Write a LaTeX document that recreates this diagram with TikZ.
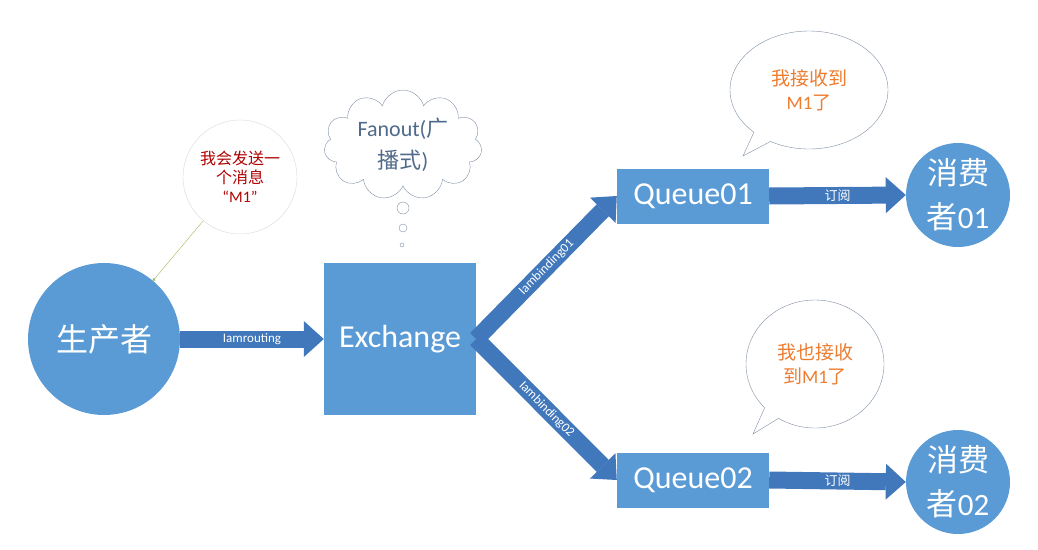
\documentclass[tikz,border=0pt]{standalone}
\usepackage{fontspec}
\setmainfont{Carlito}
\newfontfamily\cjk{Noto Sans CJK SC}
\usepackage{tikz}
\usetikzlibrary{arrows.meta,shapes.symbols,shapes.callouts}
\definecolor{boxblue}{HTML}{5B9BD5}
\definecolor{flowblue}{HTML}{4177BB}
\definecolor{sayred}{HTML}{B00000}
\definecolor{gotorange}{HTML}{ED7D31}
\definecolor{cloudtext}{HTML}{4F6A8A}
\definecolor{bubbleline}{HTML}{7F8FA6}
\definecolor{tipgreen}{HTML}{9BBB59}

\begin{document}
\begin{tikzpicture}[x=1pt,y=-1pt,
  party/.style={circle,fill=boxblue,text=white,align=center,inner sep=0pt},
  queuebox/.style={rectangle,fill=boxblue,text=white,minimum width=152pt,minimum height=55pt,font=\fontsize{32}{38}\selectfont},
  fatarrow/.style={line width=17pt,draw=flowblue,-{Triangle[length=20pt,width=36pt,line width=0pt]}},
  flowlabel/.style={midway,text=white,inner sep=1pt,font=\fontsize{13}{15}\selectfont},
  bubble/.style={ellipse callout,draw=bubbleline,fill=white,text=gotorange,align=center,font=\fontsize{19}{24}\selectfont},
  puff/.style={circle,draw=bubbleline,fill=white,inner sep=0pt}]
  \useasboundingbox (0,0) rectangle (1038,549);
  % producer and what it says
  \node[party,minimum size=152pt,font=\cjk\fontsize{32}{38}\selectfont] (prod) at (104,339) {生产者};
  \node[circle,draw=black!15,fill=white,minimum size=114pt,align=center,text=sayred,
    font=\fontsize{16}{19}\selectfont] (say) at (240,177) {{\cjk 我会发送一}\\{\cjk 个消息}\\“M1”};
  \draw[tipgreen,-{Circle[length=3pt]}] (say) -- (prod);
  % exchange with its thought
  \node[rectangle,fill=boxblue,text=white,minimum size=152pt,font=\fontsize{32}{38}\selectfont] (ex) at (400,339) {Exchange};
  \node[cloud,cloud puffs=11,aspect=1.5,draw=bubbleline,fill=white,minimum width=158pt,minimum height=108pt,
    inner sep=0pt,align=center,text=cloudtext,font=\fontsize{22}{32}\selectfont] (fanout) at (403,145) {Fanout({\cjk 广}\\{\cjk 播式})};
  \node[puff,minimum size=12pt] (puffa) at (403,208) {};
  \node[puff,minimum size=8pt] (puffb) at (403,228) {};
  \node[puff,minimum size=4pt] (puffc) at (402,245) {};
  % queues and consumers
  \node[queuebox] (q1) at (693,196) {Queue01};
  \node[queuebox] (q2) at (693,480) {Queue02};
  \node[party,minimum size=104pt,font=\fontsize{31}{44}\selectfont] (c1) at (958,195) {{\cjk 消费}\\{\cjk 者}01};
  \node[party,minimum size=104pt,font=\fontsize{31}{44}\selectfont] (c2) at (958,482) {{\cjk 消费}\\{\cjk 者}02};
  \draw[fatarrow] (prod.east) -- (ex.west) node[flowlabel] {Iamrouting};
  \draw[fatarrow] (ex.east) -- (q1.west) node[flowlabel,sloped] {Iambinding01};
  \draw[fatarrow] (ex.east) -- (q2.west) node[flowlabel,sloped] {Iambinding02};
  \draw[fatarrow] (q1.east) -- (c1.west) node[flowlabel] {\cjk 订阅};
  \draw[fatarrow] (q2.east) -- (c2.west) node[flowlabel] {\cjk 订阅};
  % what the consumers say
  \node[bubble,minimum width=158pt,minimum height=118pt,callout absolute pointer={(743,156)}] (got1) at (809,90)
    {{\cjk 我接收到}\\M1{\cjk 了}};
  \node[bubble,minimum width=138pt,minimum height=128pt,callout absolute pointer={(753,434)}] (got2) at (815,364)
    {{\cjk 我也接收}\\{\cjk 到}M1{\cjk 了}};
\end{tikzpicture}
\end{document}
